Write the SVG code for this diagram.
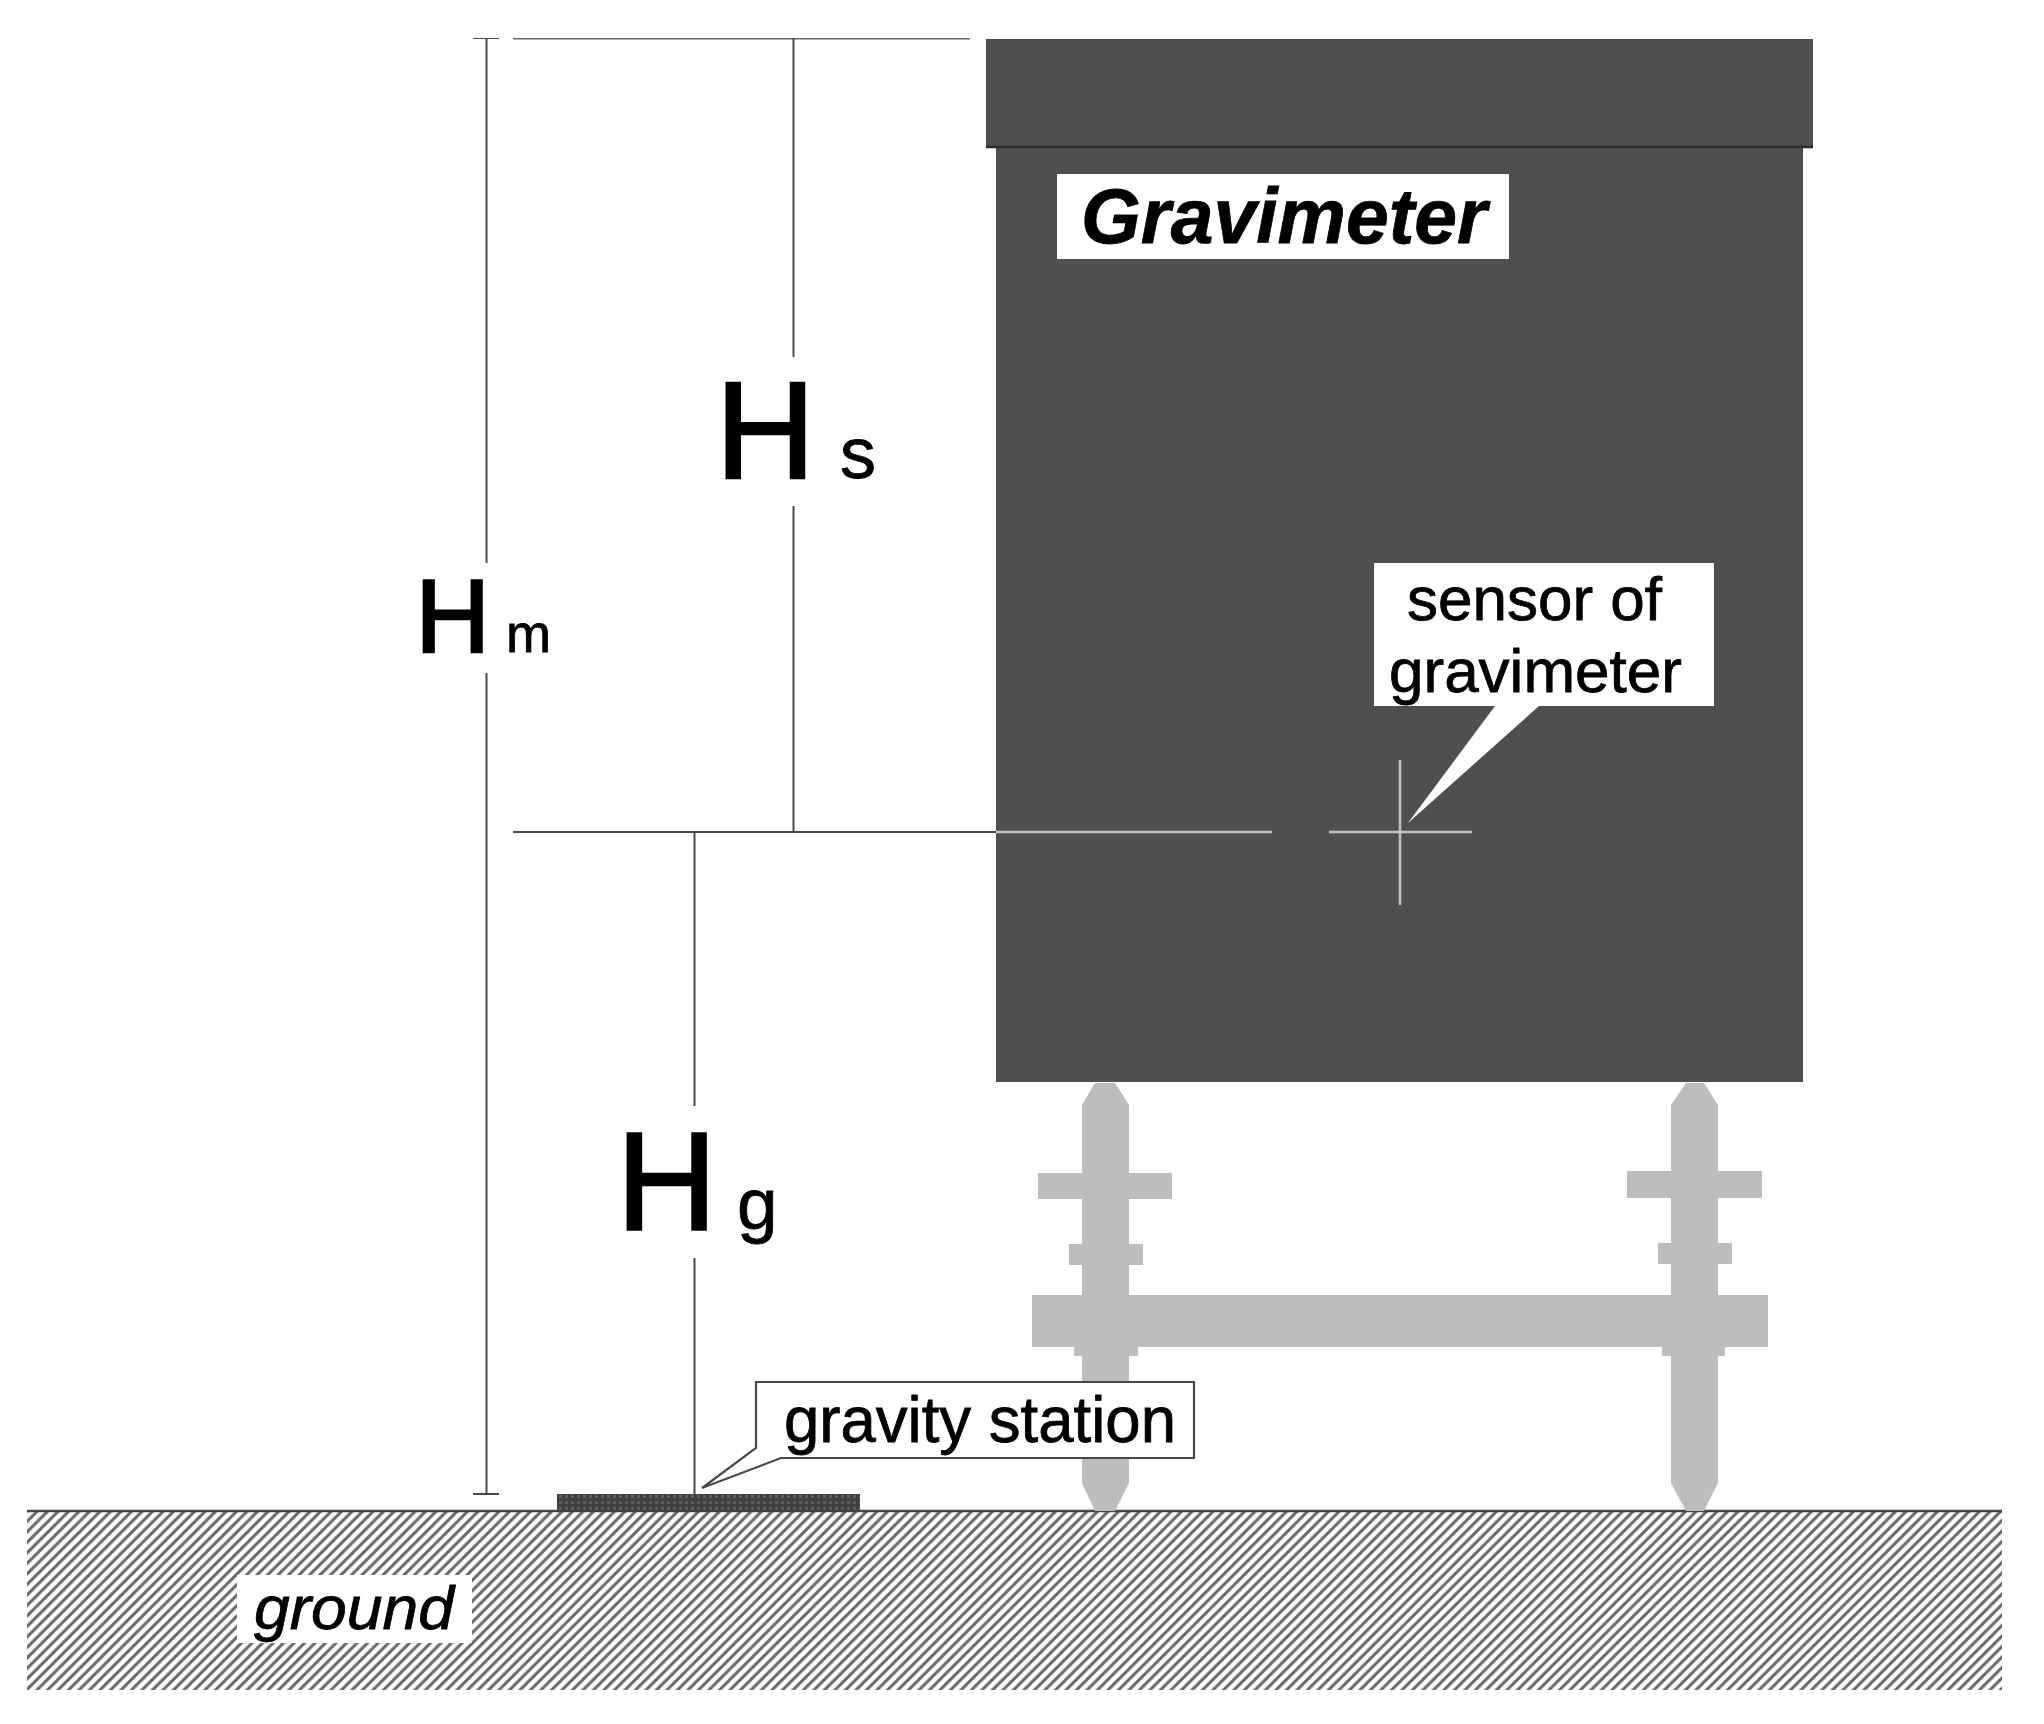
<svg xmlns="http://www.w3.org/2000/svg" width="2044" height="1724" viewBox="0 0 2044 1724">
<style>
.dim{stroke:#4a4a4a;stroke-width:2;fill:none}
.ext{stroke:#6a6a6a;stroke-width:3;fill:none}
.lt{stroke:#c4c4c4;stroke-width:2.500;fill:none}
.leg{fill:#bdbdbd}
.body{fill:#505050}
.t{font-family:"Liberation Sans",Arial,sans-serif;fill:#000;stroke:#000;stroke-width:.8}
.big{stroke-width:2.600}
.callout{fill:#fff;stroke:#4a4a4a;stroke-width:2.200}
</style>
<defs>
<pattern id="hatch" width="10.500" height="10.500" patternUnits="userSpaceOnUse" patternTransform="translate(27 1511)">
<rect width="10.500" height="10.500" fill="#fff"/>
<path d="M-5.250 5.250L5.250 -5.250M0 10.500L10.500 0M5.250 15.750L15.750 5.250" stroke="#686868" stroke-width="3" fill="none"/>
</pattern>
<pattern id="dots" width="6" height="6" patternUnits="userSpaceOnUse">
<rect width="6" height="6" fill="#404040"/>
<rect x="1" y="1" width="3" height="3" fill="#5c5c5c"/>
</pattern>
<filter id="soft" x="0" y="0" width="100%" height="100%"><feGaussianBlur stdDeviation="0.700"/></filter>
</defs>
<rect width="2044" height="1724" fill="#fff"/>
<g filter="url(#soft)">
<g id="ground">
<rect x="27" y="1511" width="1975" height="179" fill="url(#hatch)"/>
<line x1="27" y1="1511" x2="2002" y2="1511" stroke="#444" stroke-width="2.500"/>
<rect x="237" y="1575" width="235" height="68" fill="#fff"/>
<text class="t" x="254" y="1629" font-size="62" font-style="italic" textLength="200" lengthAdjust="spacingAndGlyphs">ground</text>
</g>
<g id="station"><rect x="557" y="1494" width="303" height="18" fill="url(#dots)"/></g>
<g id="supports">
<path class="leg" d="M1095 1083H1115L1129 1105V1173H1172V1199H1129V1244H1143V1265H1129V1295H1768V1347H1725V1356H1718V1483L1704 1511H1686L1671 1483V1356H1662V1347H1138V1356H1129V1483L1115 1511H1095L1082 1483V1356H1074V1347H1032V1295H1082V1265H1069V1244H1082V1199H1038V1173H1082V1105Z"/>
<path class="leg" d="M1686 1083H1704L1718 1105V1171H1762V1198H1718V1243H1732V1264H1718V1300H1671V1264H1658V1243H1671V1198H1627V1171H1671V1105Z"/>
</g>
<g id="gravimeter">
<rect class="body" x="996" y="140" width="807" height="942"/>
<rect class="body" x="986" y="39" width="827" height="108"/>
<line x1="986" y1="147" x2="1813" y2="147" stroke="#2a2a2a" stroke-width="2.500"/>
<rect x="1057" y="174" width="452" height="85" fill="#fff"/>
<text class="t" x="1081" y="243" font-size="78" font-weight="bold" font-style="italic" textLength="406" lengthAdjust="spacingAndGlyphs">Gravimeter</text>
</g>
<g id="connectors">
<path class="dim" d="M486.500 38V563M486.500 673V1494M473 38H499M473 1494H499"/>
<path class="ext" d="M513 38H970"/>
<path class="dim" d="M793.500 38V357M793.500 506V832"/>
<path class="dim" d="M694.500 832V1106M694.500 1258V1494"/>
<path class="dim" d="M513 832H996"/>
<path class="lt" d="M996 832H1272M1329 832H1472M1400 760V905"/>
</g>
<g id="sensor-label">
<path fill="#fff" d="M1374 563H1714V706H1539L1408 823L1495 706H1374Z"/>
<text class="t" x="1407" y="620" font-size="62">sensor of</text>
<text class="t" x="1389" y="692" font-size="62">gravimeter</text>
</g>
<g id="station-label">
<path class="callout" d="M756 1382H1194V1458H781L702 1488L756 1448Z"/>
<text class="t" x="784" y="1442" font-size="64" textLength="392" lengthAdjust="spacingAndGlyphs">gravity station</text>
</g>
<g id="label-hs"><text class="t big" x="715.500" y="478" font-size="138">H</text><text class="t" x="840" y="478" font-size="72">s</text></g>
<g id="label-hm"><text class="t big" x="415.500" y="652" font-size="103">H</text><text class="t" x="506" y="652" font-size="54">m</text></g>
<g id="label-hg"><text class="t big" x="616.500" y="1229" font-size="139">H</text><text class="t" x="737" y="1229" font-size="73">g</text></g>
</g>
</svg>
